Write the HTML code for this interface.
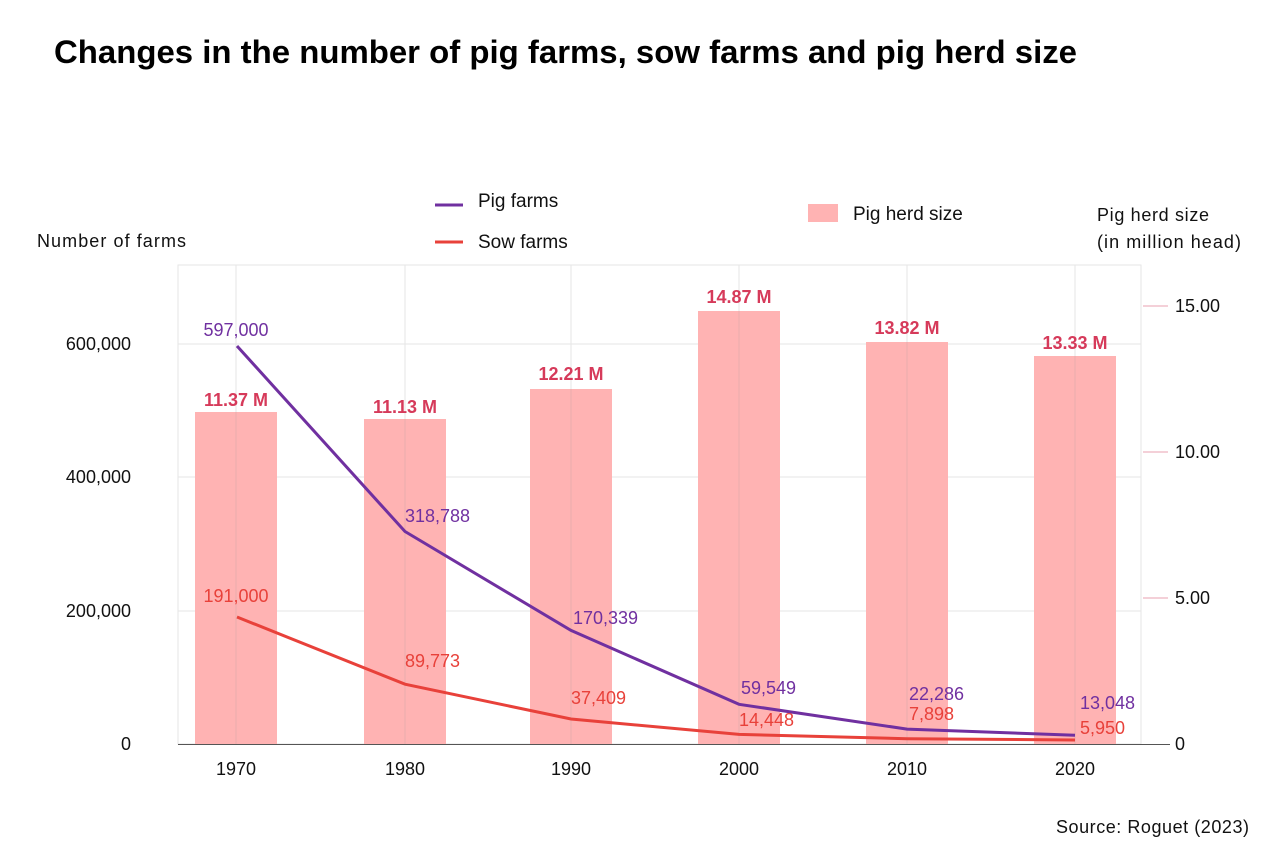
<!DOCTYPE html>
<html><head><meta charset="utf-8"><style>
body{margin:0;background:#fff;}
svg{display:block;font-family:"Liberation Sans",sans-serif;}
</style></head><body>
<svg width="1280" height="853" viewBox="0 0 1280 853">
<text x="54" y="63" font-size="32" font-weight="bold" fill="#000" textLength="1023" lengthAdjust="spacingAndGlyphs">Changes in the number of pig farms, sow farms and pig herd size</text>
<line x1="435" y1="205" x2="463" y2="205" stroke="#7030a0" stroke-width="3"/>
<text x="478" y="207" font-size="19" fill="#111">Pig farms</text>
<line x1="435" y1="242" x2="463" y2="242" stroke="#e8413a" stroke-width="3"/>
<text x="478" y="248" font-size="19" fill="#111">Sow farms</text>
<rect x="808" y="204" width="30" height="18" fill="#ffb3b3"/>
<text x="853" y="220" font-size="19" fill="#111">Pig herd size</text>
<text x="37" y="247" font-size="18" fill="#111" textLength="149">Number of farms</text>
<text x="1097" y="221" font-size="18" fill="#111" textLength="112">Pig herd size</text>
<text x="1097" y="248" font-size="18" fill="#111" textLength="144">(in million head)</text>
<g stroke="#e6e6e6" stroke-width="1">
<rect x="178" y="265" width="963" height="479" fill="none"/>
<line x1="236" y1="265" x2="236" y2="744"/><line x1="405" y1="265" x2="405" y2="744"/>
<line x1="571" y1="265" x2="571" y2="744"/><line x1="739" y1="265" x2="739" y2="744"/>
<line x1="907" y1="265" x2="907" y2="744"/><line x1="1075" y1="265" x2="1075" y2="744"/>
<line x1="178" y1="344" x2="1141" y2="344"/><line x1="178" y1="477" x2="1141" y2="477"/>
<line x1="178" y1="611" x2="1141" y2="611"/>
</g>
<g fill="#ffb3b3">
<rect x="195" y="412" width="82" height="332"/>
<rect x="364" y="419" width="82" height="325"/>
<rect x="530" y="389" width="82" height="355"/>
<rect x="698" y="311" width="82" height="433"/>
<rect x="866" y="342" width="82" height="402"/>
<rect x="1034" y="356" width="82" height="388"/>
</g>
<g stroke="#d9a8a8" stroke-width="1" opacity="0.6">
<line x1="236" y1="412" x2="236" y2="744"/><line x1="405" y1="419" x2="405" y2="744"/>
<line x1="571" y1="389" x2="571" y2="744"/><line x1="739" y1="311" x2="739" y2="744"/>
<line x1="907" y1="342" x2="907" y2="744"/><line x1="1075" y1="356" x2="1075" y2="744"/>
</g>
<line x1="178" y1="744.5" x2="1170" y2="744.5" stroke="#555" stroke-width="1"/>
<g stroke="#e8a0b0" stroke-width="1">
<line x1="1143" y1="306" x2="1168" y2="306"/><line x1="1143" y1="452" x2="1168" y2="452"/>
<line x1="1143" y1="598" x2="1168" y2="598"/>
</g>
<g font-size="18" fill="#111">
<text x="1175" y="312">15.00</text><text x="1175" y="458">10.00</text>
<text x="1175" y="604">5.00</text><text x="1175" y="750">0</text>
</g>
<g font-size="18" fill="#111" text-anchor="end">
<text x="131" y="350">600,000</text><text x="131" y="483">400,000</text>
<text x="131" y="617">200,000</text><text x="131" y="750">0</text>
</g>
<g font-size="18" fill="#111" text-anchor="middle">
<text x="236" y="775">1970</text><text x="405" y="775">1980</text><text x="571" y="775">1990</text>
<text x="739" y="775">2000</text><text x="907" y="775">2010</text><text x="1075" y="775">2020</text>
</g>
<g font-size="18" font-weight="bold" fill="#d63a5a" text-anchor="middle">
<text x="236" y="406">11.37 M</text><text x="405" y="413">11.13 M</text><text x="571" y="380">12.21 M</text>
<text x="739" y="303">14.87 M</text><text x="907" y="334">13.82 M</text><text x="1075" y="349">13.33 M</text>
</g>
<polyline points="237,346 405,531.5 571,630.4 739,704.3 907,729.1 1075,735.3" fill="none" stroke="#7030a0" stroke-width="3"/>
<polyline points="237,617 405,684.2 571,719 739,734.4 907,738.7 1075,740" fill="none" stroke="#e8413a" stroke-width="3"/>
<g font-size="18" fill="#7030a0">
<text x="236" y="336" text-anchor="middle">597,000</text>
<text x="405" y="522">318,788</text>
<text x="573" y="624">170,339</text>
<text x="741" y="694">59,549</text>
<text x="909" y="700">22,286</text>
<text x="1080" y="709">13,048</text>
</g>
<g font-size="18" fill="#e8413a">
<text x="236" y="602" text-anchor="middle">191,000</text>
<text x="405" y="667">89,773</text>
<text x="571" y="704">37,409</text>
<text x="739" y="726">14,448</text>
<text x="909" y="720">7,898</text>
<text x="1080" y="734">5,950</text>
</g>
<text x="1249" y="833" font-size="18" fill="#111" text-anchor="end" textLength="193">Source: Roguet (2023)</text>
</svg>
</body></html>
